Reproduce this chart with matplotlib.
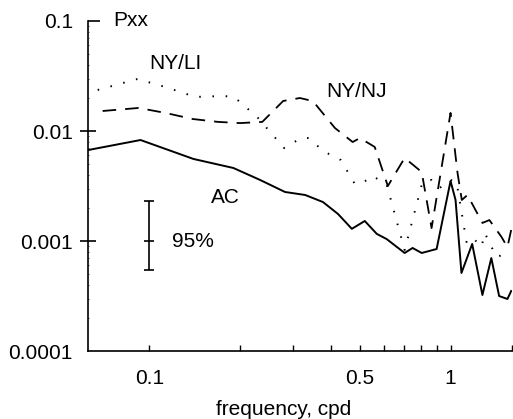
import matplotlib
matplotlib.use("Agg")
import matplotlib.pyplot as plt
import matplotlib.lines as mlines
from matplotlib.ticker import FixedLocator, NullFormatter

plt.rcParams['font.family'] = ['Liberation Sans', 'DejaVu Sans']

# AC (solid)
ac_f = [0.0625, 0.0934, 0.140, 0.190, 0.233, 0.282, 0.329, 0.377, 0.423, 0.470,
        0.519, 0.569, 0.614, 0.704, 0.748, 0.802, 0.899, 1.0, 1.039, 1.087,
        1.18, 1.276, 1.366, 1.45, 1.545, 1.59]
ac_p = [0.00671, 0.00828, 0.00557, 0.00461, 0.00359, 0.00279, 0.00262, 0.00226, 0.00176, 0.00129,
        0.00152, 0.00116, 0.00104, 0.000778, 0.000864, 0.000778, 0.000846, 0.00351, 0.00236, 0.000512,
        0.00094, 0.000323, 0.000700, 0.000316, 0.000297, 0.000351]

# NY/NJ (dashed)
nj_f = [0.0699, 0.092, 0.113, 0.139, 0.169, 0.200, 0.237, 0.278, 0.316, 0.349,
        0.413, 0.473, 0.5, 0.560, 0.619, 0.704, 0.802, 0.865, 1.0, 1.055,
        1.09, 1.138, 1.276, 1.346, 1.476, 1.545, 1.59]
nj_p = [0.0152, 0.0162, 0.0146, 0.01286, 0.0121, 0.0118, 0.0121, 0.01874, 0.01995, 0.0187,
        0.01065, 0.00794, 0.00863, 0.00716, 0.00316, 0.00569, 0.00424, 0.00131, 0.0146, 0.00415,
        0.00236, 0.00262, 0.00146, 0.00155, 0.00109, 0.00088, 0.00126]

# NY/LI (dotted)
li_f = [0.0673, 0.0912, 0.113, 0.142, 0.176, 0.191, 0.228, 0.280, 0.319, 0.339,
        0.377, 0.432, 0.481, 0.515, 0.552, 0.614, 0.704, 0.807, 0.865, 0.919,
        1.0, 1.047, 1.13, 1.18, 1.266, 1.30, 1.42, 1.56]
li_p = [0.0236, 0.0297, 0.0251, 0.0204, 0.0208, 0.0204, 0.0134, 0.0070, 0.00863, 0.00863,
        0.00658, 0.00545, 0.0033, 0.00344, 0.0039, 0.00323, 0.000828, 0.00344, 0.00359, 0.00303,
        0.00359, 0.00344, 0.00098, 0.00109, 0.00088, 0.00118, 0.000716, 0.000778]

# 95% confidence bar
ci_f = 0.1
ci_mid = 0.001
ci_lo = 0.000545
ci_hi = 0.00231

yticks = [0.0001, 0.001, 0.01, 0.1]
ylabels = ['0.0001', '0.001', '0.01', '0.1']
xticks = [0.1, 0.5, 1]
xlabels = ['0.1', '0.5', '1']
xminor = [0.2, 0.3, 0.4, 0.6, 0.7, 0.8, 0.9, 1.6]
yminor = [2e-4, 3e-4, 4e-4, 5e-4, 6e-4, 7e-4, 8e-4, 9e-4,
          2e-3, 3e-3, 4e-3, 5e-3, 6e-3, 7e-3, 8e-3, 9e-3,
          2e-2, 3e-2, 4e-2, 5e-2, 6e-2, 7e-2, 8e-2, 9e-2]

fig = plt.figure(figsize=(5.13, 4.19), dpi=100)
ax = fig.add_axes([88/513, 68/419, 424/513, 330/419])

ax.plot(ac_f, ac_p, color='black', lw=1.4, ls='-')
ax.plot(nj_f, nj_p, color='black', lw=1.3, ls=(0, (7.5, 5)))
ax.plot(li_f, li_p, color='black', lw=1.4, ls=(0, (0.8, 6)))

ax.errorbar([ci_f], [ci_mid], yerr=[[ci_mid - ci_lo], [ci_hi - ci_mid]],
            color='black', lw=1.2, capsize=3.3, capthick=1.2,
            marker='_', markersize=6.6, markeredgewidth=1.2)

ax.set_xscale('log')
ax.set_yscale('log')
ax.set_xlim(0.0625, 1.6)
ax.set_ylim(0.0001, 0.1)

for s in ['top', 'right']:
    ax.spines[s].set_visible(False)
for s in ['left', 'bottom']:
    ax.spines[s].set_linewidth(1.2)

ax.set_yticks(yticks)
ax.set_yticklabels(ylabels)
ax.yaxis.set_minor_locator(FixedLocator(yminor))
ax.yaxis.set_minor_formatter(NullFormatter())
ax.tick_params(axis='y', which='major', direction='inout', length=11, width=1.2,
               labelsize=15, pad=5.4)
ax.tick_params(axis='y', which='minor', direction='in', length=1.0, width=0.5)

ax.set_xticks(xticks)
ax.set_xticklabels(xlabels)
ax.xaxis.set_minor_locator(FixedLocator(xminor))
ax.xaxis.set_minor_formatter(NullFormatter())
ax.tick_params(axis='x', which='major', direction='in', length=4, width=1.0,
               labelsize=15, pad=13)
ax.tick_params(axis='x', which='minor', direction='in', length=4, width=1.0)

# 0.1 tick only points inward, 0.0001 tick hidden at the corner
yt = ax.yaxis.get_major_ticks()
yt[3].tick1line.set_marker(mlines.TICKRIGHT)
yt[3].tick1line.set_markersize(8.6)
yt[0].tick1line.set_visible(False)

ax.set_xlabel('frequency, cpd', fontsize=15)
ax.xaxis.set_label_coords(0.462, -0.148)

ax.text(0.059, 1.0, 'Pxx', transform=ax.transAxes, fontsize=15, ha='left', va='center')
ax.text(0.122, 0.0415, 'NY/LI', fontsize=15, ha='center', va='center')
ax.text(0.489, 0.0231, 'NY/NJ', fontsize=15, ha='center', va='center')
ax.text(0.179, 0.00251, 'AC', fontsize=15, ha='center', va='center')
ax.text(0.1192, 0.001, '95%', fontsize=15, ha='left', va='center')

fig.savefig('out.png', dpi=100)
